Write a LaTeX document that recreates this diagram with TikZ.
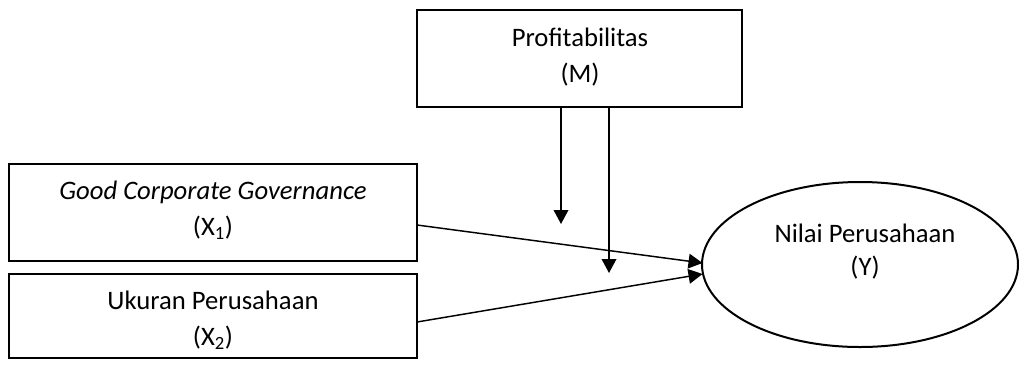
\documentclass[tikz,border=0pt]{standalone}
\usepackage{fontspec}
\setmainfont{Carlito}
\usetikzlibrary{arrows.meta,shapes.geometric}
\begin{document}
\begin{tikzpicture}[x=0.75pt,y=-0.75pt,
  box/.style={draw,line width=1.5pt,rectangle,inner sep=0pt},
  oval/.style={draw,line width=1.5pt,ellipse,inner sep=0pt},
  lbl/.style={inner sep=0pt,font=\fontsize{20}{24}\selectfont},
  arr/.style={line width=1.1pt,-{Triangle[length=10.5pt,width=11pt]}}]
\useasboundingbox (0,0) rectangle (1019,372);
\node[box,minimum width=325*0.75pt,minimum height=97*0.75pt] (M) at (579.5,58.5) {};
\node[box,minimum width=408*0.75pt,minimum height=97*0.75pt] (X1) at (213,212.5) {};
\node[box,minimum width=408*0.75pt,minimum height=84*0.75pt] (X2) at (213,316) {};
\node[oval,minimum width=316*0.75pt,minimum height=165*0.75pt] (Y) at (860,264.5) {};
\node[lbl] (tM1) at (580,37) {Profitabilitas};
\node[lbl] (tM2) at (580,75) {(M)};
\node[lbl] (tX11) at (213,192) {\textit{Good Corporate Governance}};
\node[lbl] (tX12) at (213,228) {(X\textsubscript{1})};
\node[lbl] (tX21) at (213,300) {Ukuran Perusahaan};
\node[lbl] (tX22) at (213,338) {(X\textsubscript{2})};
\node[lbl] (tY1) at (865,233) {Nilai Perusahaan};
\node[lbl] (tY2) at (865,268) {(Y)};
\coordinate (m1) at (561,107);
\coordinate (m1e) at (561,224);
\coordinate (m2) at (609,107);
\coordinate (m2e) at (609,273);
\coordinate (x1s) at (417,225);
\coordinate (x2s) at (417,322);
\coordinate (y1) at (702.5,263);
\coordinate (y2) at (702.5,274);
\draw[arr] (m1) -- (m1e);
\draw[arr] (m2) -- (m2e);
\draw[arr] (x1s) -- (y1);
\draw[arr] (x2s) -- (y2);
\end{tikzpicture}
\end{document}
